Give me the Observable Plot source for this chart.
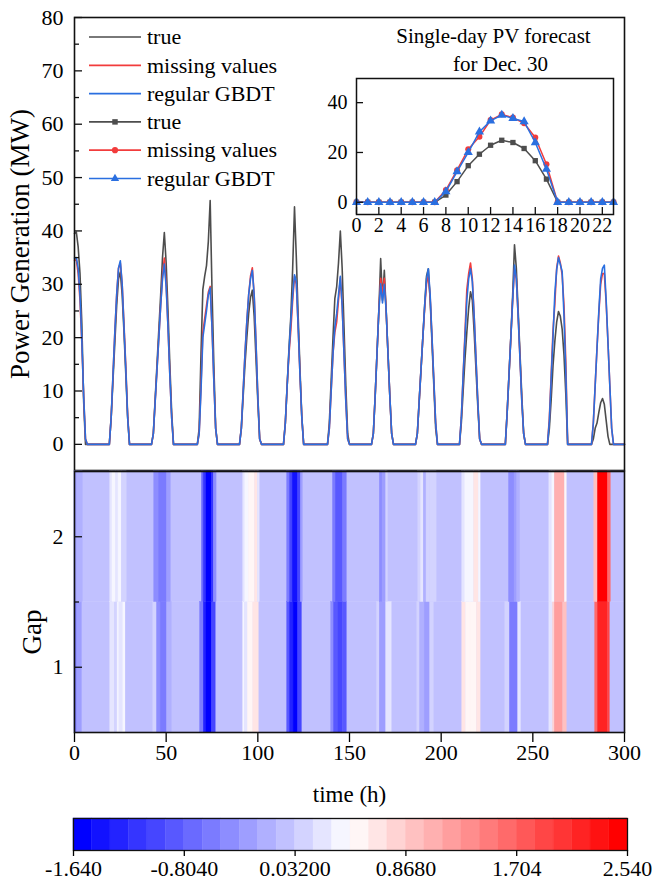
<!DOCTYPE html>
<html>
<head>
<meta charset="utf-8">
<script src="https://cdn.jsdelivr.net/npm/d3@7"></script>
<script src="https://cdn.jsdelivr.net/npm/@observablehq/plot@0.6"></script>
<style>
  html, body { margin: 0; padding: 0; background: #fff; }
  #root { position: relative; width: 652px; height: 885px; overflow: hidden; font-family: "Liberation Serif", "Times New Roman", serif; }
  #root svg { position: absolute; overflow: visible; font-family: "Liberation Serif", "Times New Roman", serif; }
  #root svg text { font-family: "Liberation Serif", "Times New Roman", serif; font-weight: normal; }
</style>
</head>
<body>
<div id="root"></div>
<script>
// ---------------- DATA ----------------
// Inset: single day (Dec. 30), clock hours 0..23
const insetHours = [0,1,2,3,4,5,6,7,8,9,10,11,12,13,14,15,16,17,18,19,20,21,22,23];
const insetTrue    = [0,0,0,0,0,0,0,0, 2.9, 8.3,14.7,19.3,22.9,24.9,24.0,21.6,16.7, 9.3, 0,0,0,0,0,0];
const insetMissing = [0,0,0,0,0,0,0,0, 4.9,12.9,21.3,26.3,33.0,35.3,34.0,31.7,26.0,15.3, 0,0,0,0,0,0];
const insetGBDT    = [0,0,0,0,0,0,0,0, 4.3,12.3,20.0,28.3,32.7,35.0,33.7,32.4,24.0,13.3, 0,0,0,0,0,0];
const insetXTicks = [0,2,4,6,8,10,12,14,16,18,20,22];
const insetYTicks = [0,20,40];
const insetTitle = ["Single-day PV forecast", "for Dec. 30"];

// Main series: hour of first daylight value of each day, and the daylight values (zero at night)
const totalHours = 300;
const dayStart = [0, 20, 43, 68, 91, 115, 139, 163, 187, 211, 236, 259, 283];
const trueDaylight = [
  [39.5, 39.8, 37, 32, 22.7, 8, 0],
  [5, 12, 19, 26, 31, 32.3, 28, 21, 13, 5],
  [2, 8.5, 15, 21.5, 28, 35, 39.7, 34, 25, 15, 6],
  [3, 17, 29, 31.5, 33.5, 38, 45.7, 29, 15, 3],
  [3, 9, 15, 20, 24.5, 27.5, 28.9, 24, 16, 8, 1],
  [4, 11, 18, 24, 33, 44.5, 35, 24, 14, 5, 0],
  [4, 12, 20, 27.3, 29.5, 34, 40, 33, 22, 11, 2],
  [2, 9, 17, 25, 34.8, 27, 32.6, 25, 17, 9, 2],
  [2, 8, 14, 20, 26, 31.5, 32.9, 27, 19, 11, 3],
  [4, 10, 16, 21, 25.5, 28.6, 27, 21, 14, 7, 1],
  [6, 13, 20, 28, 37.4, 33, 25, 17, 9, 2],
  insetTrue.slice(8, 18),
  [1, 3, 4, 6, 7.8, 8.6, 7.5, 4.5, 1.5, 0, 0]
];
const missingDaylight = [
  [34.5, 34.6, 32, 27, 19, 9, 1],
  [5, 13, 21, 28, 33, 34.0, 30, 22.5, 14.5, 5.5],
  [2, 8, 14, 20, 26, 31.5, 34.9, 30, 22, 13, 5],
  [2, 11, 21, 23.5, 26, 28.5, 29.6, 22, 12, 3],
  [3, 10, 17, 23, 28, 31.5, 33.1, 28, 19, 9, 1],
  [4, 11, 17, 21.4, 27, 31.5, 30, 22, 13, 5, 0],
  [3, 10, 17, 21, 22.9, 27, 31.2, 26, 17, 8, 1],
  [2, 9, 17, 25, 31.1, 28, 31.1, 25, 17, 9, 2],
  [2, 8, 14, 20, 25.5, 30, 31.7, 27.5, 20, 12, 4],
  [5, 13, 21, 29, 32, 34, 31, 24, 16, 8, 1],
  [6, 13, 20, 27, 32.9, 31, 24, 16, 8, 2],
  insetMissing.slice(8, 18),
  [4, 11, 18, 24.5, 30, 32, 32, 26.5, 19, 11, 3]
];
const gbdtDaylight = [
  [34.9, 35, 33, 28, 19.5, 9, 1],
  [5, 13, 21, 28, 33, 34.4, 30, 22, 14, 5],
  [2, 8, 14, 20, 26, 31, 33.8, 29.5, 22, 13, 5],
  [2, 10, 20, 22.5, 25, 28, 29.3, 22, 12, 3],
  [3, 10, 17, 23, 28, 31, 32.6, 28, 19, 9, 1],
  [4, 11, 17.5, 23, 28, 31.8, 30.5, 22, 13, 5, 0],
  [3, 10, 17, 22, 24.5, 28, 31.5, 26, 17, 8, 1],
  [2, 9, 17, 25, 30.1, 26.5, 30, 25, 17, 9, 2],
  [2, 8, 14, 20, 26, 31, 32.9, 28, 20, 12, 4],
  [5, 13, 20, 27, 31, 32.9, 30.5, 24, 16, 8, 1],
  [6, 13, 20, 27, 33.6, 31, 24, 16, 8, 2],
  insetGBDT.slice(8, 18),
  [4, 11, 18, 25, 31, 33, 33.6, 27, 19, 11, 3]
];
const yMajorTicks = [0,10,20,30,40,50,60,70,80];
const yMinorTicks = [5,15,25,35,45,55,65,75];
const xTicks = [0,50,100,150,200,250,300];

// Heatmap: value of the error per gap row, background value + segments [from h, to h, value]
const gapRows = [1, 2];
const gapTicks = [1, 2];
const gapMinorTicks = [1.5];
const heatBase = -0.04;
const gap2Segments = [
  [0,1.5,-0.32],[1.5,4.5,-0.18],
  [19.5,20.7,0.24],[20.7,22.7,0.38],[22.7,24,0.24],[24,25.8,0.38],[25.8,28.5,0.17],
  [43.5,46,-0.46],[46,50.5,-0.6],[50.5,52.5,-0.32],
  [69.5,70.5,-0.73],[70.5,72,-1.15],[72,75,-1.57],[75,76,-1.15],[76,77.5,-0.46],
  [92,93,0.24],[93,95,0.38],[95,98.5,0.52],[98.5,100,0.66],[100,101,0.24],
  [116,117.5,-0.6],[117.5,119,-1.01],[119,122,-1.5],[122,123.5,-1.01],[123.5,124.5,-0.32],
  [141,142.5,-0.6],[142.5,146.5,-0.87],[146.5,148.5,-0.6],
  [166.5,168,-0.4],[168,170,-0.32],[170,171,0.1],
  [187.5,189,0.1],[189,190.5,0.24],[190.5,192,-0.18],[192,194,0.1],[194,197.5,0.12],
  [211.5,213,0.24],[213,218,0.38],[218,220.5,0.66],[220.5,221.5,0.38],
  [237,240,-0.46],[240,241.5,-0.32],[241.5,243,-0.18],
  [259,260.5,0.24],[260.5,262,0.45],[262,267.5,1.08],[267.5,268.5,0.52],
  [283.5,285.5,0.94],[285.5,291,2.47],[291,292.5,1.64]
];
const gap1Segments = [
  [0,1.5,-0.6],[1.5,4,-0.32],
  [19.5,22,0.24],[22,23.5,0.1],[23.5,24.5,0.38],[24.5,26.5,0.24],[26.5,28,0.42],[28,29.5,0.0],
  [43,45,0.1],[45,47,-0.4],[47,50.5,-0.6],[50.5,53,-0.18],
  [68.5,70.5,-0.6],[70.5,72,-1.29],[72,75,-1.57],[75,77,-1.01],
  [92,93,0.38],[93,94.5,0.24],[94.5,97.5,0.52],[97.5,100.5,0.6],
  [116,117.5,-0.87],[117.5,119.5,-1.29],[119.5,122,-1.57],[122,124,-1.01],
  [140,141.5,-0.46],[141.5,144,-0.87],[144,146.5,-1.01],[146.5,148.5,-0.87],
  [165,166.5,0.1],[166.5,170,-0.32],[170,173,0.24],
  [187,188.5,0.1],[188.5,191,-0.18],[191,194,-0.32],[194,196,0.1],
  [211.5,213.5,0.66],[213.5,216,0.52],[216,219.5,0.5],[219.5,221.5,0.66],
  [235,237.5,0.1],[237.5,242,-0.55],[242,243.5,0.24],
  [259,261,0.24],[261,262,0.8],[262,266.5,1.15],[266.5,268.5,0.94],
  [284,285.5,1.64],[285.5,291,2.2],[291,292,1.9]
];

// Colour bar
const cbDomain = [-1.64, 2.54];
const cbLevels = 30;
const cbColorStops = ["#0000ff", "#ffffff", "#ff0000"];
const cbTicks = [-1.64, -0.804, 0.032, 0.868, 1.704, 2.54];
const cbLabels = ["-1.640", "-0.8040", "0.03200", "0.8680", "1.704", "2.540"];

// Texts
const yTitle = "Power Generation (MW)";
const gapTitle = "Gap";
const xTitle = "time (h)";
const legendLabels = ["true", "missing values", "regular GBDT", "true", "missing values", "regular GBDT"];

// ---------------- STYLE ----------------
const FONT = '"Liberation Serif", "Times New Roman", serif';
const C_TRUE = "#4d4d4d", C_MISS = "#f23c3c", C_GBDT = "#2a6fe0";
const W = 652;
const baseStyle = {fontFamily: FONT, color: "#000", background: "transparent", overflow: "visible"};
const fmtInt = d => String(d);

// ---------------- BUILD ----------------
const hourIndex = d3.range(0, totalHours + 1);
function buildSeries(daylight) {
  const vals = hourIndex.map(() => 0);
  dayStart.forEach((s, d) => daylight[d].forEach((v, j) => { if (s + j <= totalHours) vals[s + j] = v; }));
  return hourIndex.map((h, i) => ({hour: h, value: vals[i]}));
}
const trueSeries = buildSeries(trueDaylight);
const missSeries = buildSeries(missingDaylight);
const gbdtSeries = buildSeries(gbdtDaylight);

const colors30 = d3.quantize(d3.piecewise(d3.interpolateRgb, cbColorStops), cbLevels);
const colorOpts = {type: "quantize", domain: cbDomain, range: colors30};

const root = document.getElementById("root");
function place(svg, left, top) {
  svg.style.position = "absolute";
  svg.style.left = left + "px";
  svg.style.top = top + "px";
  svg.style.maxWidth = "none";
  root.appendChild(svg);
}

// --- top panel ---
const topML = 74, topMR = 28, topFW = W - topML - topMR;
const topPlot = Plot.plot({
  width: W, height: 471,
  marginLeft: topML, marginRight: topMR, marginTop: 17, marginBottom: 1,
  x: {domain: [0, totalHours], axis: null},
  y: {domain: [-4.9, 80], axis: null},
  style: baseStyle,
  marks: [
    Plot.line(trueSeries, {x: "hour", y: "value", stroke: C_TRUE, strokeWidth: 1.6}),
    Plot.line(missSeries, {x: "hour", y: "value", stroke: C_MISS, strokeWidth: 1.6}),
    Plot.line(gbdtSeries, {x: "hour", y: "value", stroke: C_GBDT, strokeWidth: 1.6}),
    Plot.tickY(yMajorTicks, {stroke: "#111", strokeWidth: 1.3, insetRight: topFW - 8}),
    Plot.tickY(yMinorTicks, {stroke: "#111", strokeWidth: 1.3, insetRight: topFW - 5}),
    Plot.axisY(yMajorTicks, {tickSize: 0, tickPadding: 11, fontSize: 22, fontFamily: FONT, tickFormat: fmtInt, label: null}),
    Plot.text([yTitle], {frameAnchor: "left", dx: -54, rotate: -90, textAnchor: "middle", lineAnchor: "middle", fontSize: 27, fontFamily: FONT, fill: "#000"}),
    Plot.frame({stroke: "#111", strokeWidth: 1.6})
  ]
});
place(topPlot, 0, 0);

// --- inset ---
const inML = 36, inMR = 4, inMT = 78, inMB = 30, inFW = 257, inFH = 136;
const insetData = (arr) => insetHours.map((h, i) => ({hour: h, value: arr[i]}));
const inT = insetData(insetTrue), inM = insetData(insetMissing), inG = insetData(insetGBDT);
const insetPlot = Plot.plot({
  width: inML + inFW + inMR, height: inMT + inFH + inMB,
  marginLeft: inML, marginRight: inMR, marginTop: inMT, marginBottom: inMB,
  x: {domain: [0, 23], axis: null},
  y: {domain: [-4.9, 49.7], axis: null},
  style: baseStyle,
  marks: [
    Plot.line(inT, {x: "hour", y: "value", stroke: C_TRUE, strokeWidth: 1.5}),
    Plot.dot(inT, {x: "hour", y: "value", symbol: "square", r: 3, fill: C_TRUE}),
    Plot.line(inM, {x: "hour", y: "value", stroke: C_MISS, strokeWidth: 1.5}),
    Plot.dot(inM, {x: "hour", y: "value", symbol: "circle", r: 3, fill: C_MISS}),
    Plot.line(inG, {x: "hour", y: "value", stroke: C_GBDT, strokeWidth: 1.5}),
    Plot.dot(inG, {x: "hour", y: "value", symbol: "triangle", r: 3.4, fill: C_GBDT}),
    Plot.tickX(insetXTicks, {stroke: "#111", strokeWidth: 1.3, insetTop: inFH - 7}),
    Plot.tickY(insetYTicks, {stroke: "#111", strokeWidth: 1.3, insetRight: inFW - 7}),
    Plot.axisX(insetXTicks, {tickSize: 0, tickPadding: 3, fontSize: 20, fontFamily: FONT, tickFormat: fmtInt, label: null}),
    Plot.axisY(insetYTicks, {tickSize: 0, tickPadding: 9, fontSize: 20, fontFamily: FONT, tickFormat: fmtInt, label: null}),
    Plot.text([insetTitle[0]], {frameAnchor: "top", dx: 8.5, dy: -42, lineAnchor: "middle", fontSize: 21, fontFamily: FONT, fill: "#000"}),
    Plot.text([insetTitle[1]], {frameAnchor: "top", dx: 15.5, dy: -14, lineAnchor: "middle", fontSize: 21, fontFamily: FONT, fill: "#000"}),
    Plot.frame({stroke: "#111", strokeWidth: 1.5})
  ]
});
place(insetPlot, 320, 0);

// --- legend ---
const legendStyle = [
  {color: C_TRUE, symbol: null}, {color: C_MISS, symbol: null}, {color: C_GBDT, symbol: null},
  {color: C_TRUE, symbol: d3.symbolSquare}, {color: C_MISS, symbol: d3.symbolCircle}, {color: C_GBDT, symbol: d3.symbolTriangle}
];
const leg = d3.create("svg").attr("width", 300).attr("height", 200);
legendLabels.forEach((lab, i) => {
  const y = 37 + i * 28.3;
  const st = legendStyle[i];
  leg.append("line").attr("x1", 89).attr("x2", 141).attr("y1", y).attr("y2", y)
    .attr("stroke", st.color).attr("stroke-width", 1.7);
  if (st.symbol) leg.append("path").attr("d", d3.symbol(st.symbol, 30)())
    .attr("transform", `translate(115,${y})`).attr("fill", st.color);
  leg.append("text").attr("x", 147).attr("y", y).attr("dy", "0.33em")
    .attr("font-family", FONT).attr("font-size", 22).attr("fill", "#000").text(lab);
});
place(leg.node(), 0, 0);

// --- heatmap ---
const cells = [];
gapRows.forEach(g => cells.push({gap: g, x1: 0, x2: totalHours, v: heatBase}));
gap1Segments.forEach(([a, b, v]) => cells.push({gap: 1, x1: a, x2: b, v}));
gap2Segments.forEach(([a, b, v]) => cells.push({gap: 2, x1: a, x2: b, v}));
const hmML = 74, hmMR = 28, hmFW = W - hmML - hmMR;
const heatPlot = Plot.plot({
  width: W, height: 340,
  marginLeft: hmML, marginRight: hmMR, marginTop: 1, marginBottom: 78,
  x: {domain: [0, totalHours], axis: null},
  y: {domain: [0.5, 2.5], axis: null},
  color: colorOpts,
  style: baseStyle,
  marks: [
    Plot.rect(cells, {x1: "x1", x2: "x2", y1: d => d.gap - 0.5, y2: d => d.gap + 0.5, fill: "v", stroke: "v", strokeWidth: 0.4}),
    Plot.tickY(gapTicks, {stroke: "#111", strokeWidth: 1.3, insetRight: hmFW - 8}),
    Plot.tickY(gapMinorTicks, {stroke: "#111", strokeWidth: 1.3, insetRight: hmFW - 5}),
    Plot.axisY(gapTicks, {tickSize: 0, tickPadding: 11, fontSize: 22, fontFamily: FONT, tickFormat: fmtInt, label: null}),
    Plot.axisX(xTicks, {tickSize: 10, tickPadding: 2, fontSize: 22, fontFamily: FONT, tickFormat: fmtInt, label: null, strokeWidth: 1.3}),
    Plot.text([gapTitle], {frameAnchor: "left", dx: -42, dy: 30, rotate: -90, textAnchor: "middle", lineAnchor: "middle", fontSize: 27, fontFamily: FONT, fill: "#000"}),
    Plot.text([xTitle], {frameAnchor: "bottom", dy: 62, lineAnchor: "middle", fontSize: 23, fontFamily: FONT, fill: "#000"}),
    Plot.frame({stroke: "#111", strokeWidth: 1.6})
  ]
});
place(heatPlot, 0, 470);

// --- colour bar ---
const cbStep = (cbDomain[1] - cbDomain[0]) / cbLevels;
const cbCells = d3.range(cbLevels).map(i => ({
  x1: cbDomain[0] + i * cbStep,
  x2: cbDomain[0] + (i + 1) * cbStep,
  v: cbDomain[0] + (i + 0.5) * cbStep
}));
const cbPlot = Plot.plot({
  width: W, height: 75,
  marginLeft: 73, marginRight: 25, marginTop: 8, marginBottom: 35,
  x: {domain: cbDomain, axis: null},
  color: colorOpts,
  style: baseStyle,
  marks: [
    Plot.rect(cbCells, {x1: "x1", x2: "x2", fill: "v", stroke: "v", strokeWidth: 0.4}),
    Plot.frame({stroke: "#111", strokeWidth: 1.3}),
    Plot.axisX(cbTicks, {tickSize: 6, tickPadding: 4, fontSize: 22, fontFamily: FONT, label: null, strokeWidth: 1.3,
      tickFormat: d => cbLabels[cbTicks.indexOf(d)]})
  ]
});
place(cbPlot, 0, 810);
</script>
</body>
</html>
